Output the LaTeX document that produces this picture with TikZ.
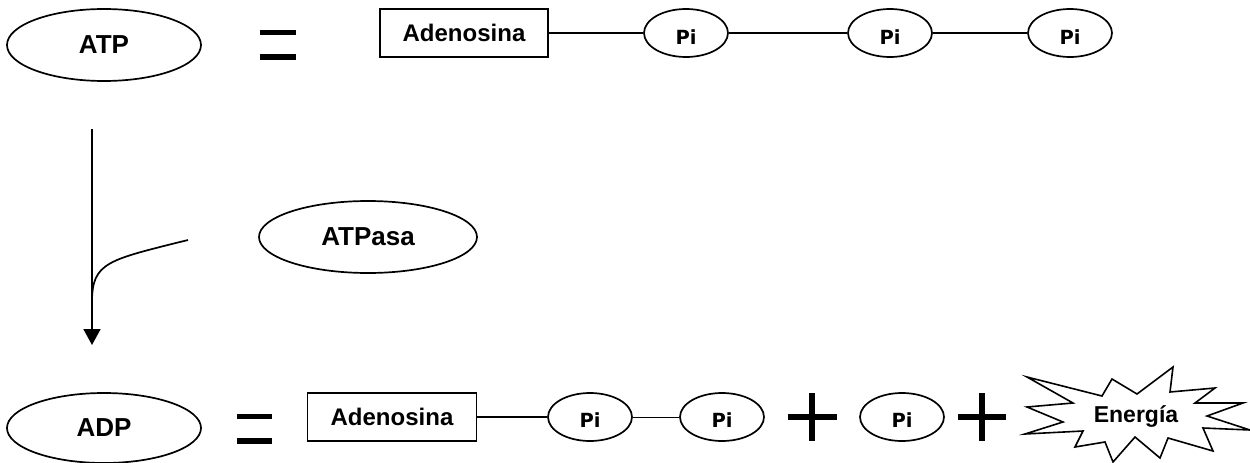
\documentclass[tikz,border=0pt]{standalone}
\usepackage{fontspec}
\setmainfont{Liberation Sans}
\newfontfamily\pifont{DejaVu Sans}
\usetikzlibrary{shapes.geometric,arrows.meta}
\tikzset{
  big/.style={ellipse,draw,line width=1.7pt,minimum width=194pt,minimum height=72pt,inner sep=0pt,font=\fontsize{26}{30}\selectfont\bfseries},
  pib/.style={ellipse,draw,line width=1.7pt,minimum width=84pt,minimum height=48pt,inner sep=0pt,font=\pifont\fontsize{19.5}{22}\selectfont\bfseries},
  pitext/.style={inner sep=0pt,font=\pifont\fontsize{19.5}{22}\selectfont\bfseries},
  adbox/.style={rectangle,draw,line width=1.6pt,minimum width=168pt,minimum height=48pt,inner sep=0pt,font=\fontsize{24}{28}\selectfont\bfseries},
  link/.style={line width=1.4pt},
  thinlink/.style={line width=0.9pt},
  sign/.style={fill=black,draw=none}
}
\begin{document}
\begin{tikzpicture}[x=1pt,y=-1pt]
\useasboundingbox (0,0) rectangle (1250,463);
% top row
\node[big] (atp) at (104,45) {ATP};
\fill[sign] (260,30) rectangle (296,35);
\fill[sign] (260,54) rectangle (296,60);
\node[adbox] (ad1) at (464,33) {Adenosina};
\node[pib] (p1) at (686,33) {};
\node[pib] (p2) at (890,33) {};
\node[pib] (p3) at (1070,33) {};
\node[pitext] (t1) at (686,37) {Pi};
\node[pitext] (t2) at (890,37) {Pi};
\node[pitext] (t3) at (1070,37) {Pi};
\draw[link] (ad1.east) -- (p1.west);
\draw[link] (p1.east) -- (p2.west);
\draw[link] (p2.east) -- (p3.west);
% reaction arrow
\coordinate (astart) at (92,129);
\coordinate (aend) at (92,345);
\coordinate (cstart) at (188,240);
\coordinate (cjoin) at (92,302);
\draw[line width=1.7pt,-{Triangle[width=17pt,length=16pt]}] (astart) -- (aend);
\draw[line width=1.7pt] (cstart) .. controls (108,260) and (92,262) .. (cjoin);
\node[big,minimum width=218pt] (atpasa) at (368,237) {ATPasa};
% bottom row
\node[big,minimum height=70pt] (adp) at (104,428) {ADP};
\fill[sign] (237,414) rectangle (272,419);
\fill[sign] (237,438) rectangle (272,444);
\node[adbox,minimum width=169pt] (ad2) at (392,417) {Adenosina};
\node[pib] (q1) at (590,417) {};
\node[pib] (q2) at (722,417) {};
\node[pitext] (u1) at (590,420) {Pi};
\node[pitext] (u2) at (722,420) {Pi};
\draw[link] (ad2.east) -- (q1.west);
\draw[thinlink] (q1.east) -- (q2.west);
\fill[sign] (788,414) rectangle (837,420);
\fill[sign] (809,393) rectangle (815,441);
\node[pib] (q3) at (902,417) {};
\node[pitext] (u3) at (902,420) {Pi};
\fill[sign] (958,414) rectangle (1006,420);
\fill[sign] (979,393) rectangle (985,441);
% energy burst
\draw[line width=1.6pt,line join=miter,fill=white]
 (1027,377) -- (1102,396) -- (1112,379) -- (1137,394) -- (1173,367) -- (1170,392)
 -- (1215,388) -- (1195,403) -- (1243,403) -- (1207,416) -- (1250,430) -- (1203,428)
 -- (1213,451) -- (1168,438) -- (1160,458) -- (1135,437) -- (1113,462) -- (1105,442)
 -- (1075,447) -- (1083,431) -- (1025,434) -- (1063,422) -- (1027,407) -- (1073,403) -- cycle;
\node[font=\fontsize{23}{27}\selectfont\bfseries,inner sep=0pt] (en) at (1136,416) {Energía};
\end{tikzpicture}
\end{document}
